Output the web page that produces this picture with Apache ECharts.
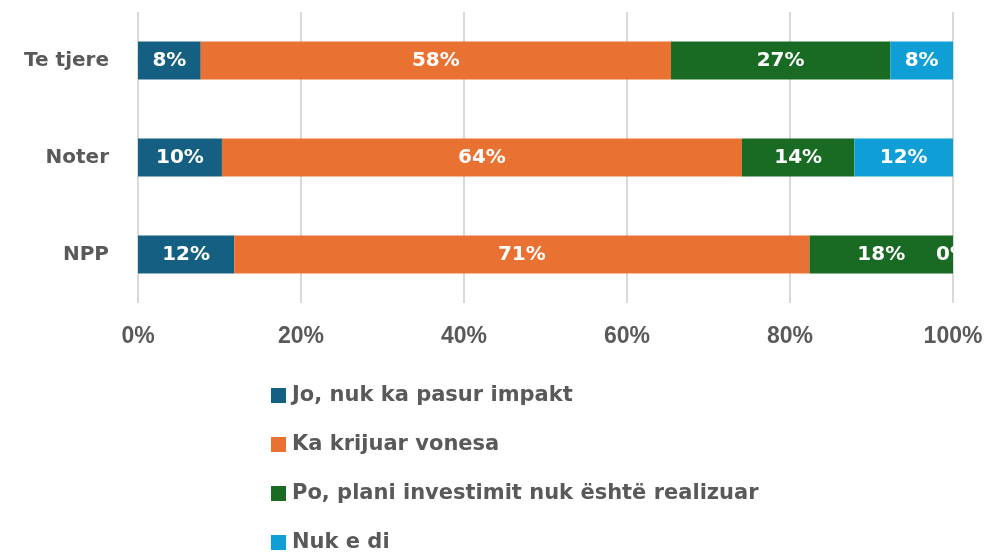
<!DOCTYPE html>
<html>
<head>
<meta charset="utf-8">
<script src="https://cdn.jsdelivr.net/npm/echarts@6/dist/echarts.min.js"></script>
<style>
  html, body { margin: 0; padding: 0; background: #ffffff; }
  #chart { width: 986px; height: 552px; }
</style>
</head>
<body>
<div id="chart"></div>
<script>
// Respondent groups (bottom to top on the y axis)
var categories = ['NPP', 'Noter', 'Te tjere'];

// Answer options, one stacked series each
var seriesNames = [
  'Jo, nuk ka pasur impakt',
  'Ka krijuar vonesa',
  'Po, plani investimit nuk është realizuar',
  'Nuk e di'
];

// Share of answers per group, in percent (each group sums to 100)
var joImpakt   = [11.8, 10.3, 7.7];
var kaVonesa   = [70.6, 63.8, 57.7];
var poPlani    = [17.6, 13.8, 26.9];
var nukEDi     = [0.0, 12.1, 7.7];

var xTickLabels = ['0%', '20%', '40%', '60%', '80%', '100%'];

var colors = ['#156082', '#E97132', '#196B24', '#0F9ED5'];
var seriesValues = [joImpakt, kaVonesa, poPlani, nukEDi];

var textFont = '"DejaVu Sans", "Open Sans", sans-serif';
var grey = '#595959';

var chart = echarts.init(document.getElementById('chart'));

var series = seriesNames.map(function (name, i) {
  return {
    name: name,
    type: 'bar',
    stack: 'total',
    barWidth: 38,
    data: seriesValues[i],
    itemStyle: { color: colors[i] },
    label: {
      show: true,
      position: 'inside',
      color: '#ffffff',
      fontFamily: textFont,
      fontWeight: 'bold',
      fontSize: 20,
      formatter: function (p) { return Math.round(p.value) + '%'; }
    },
    emphasis: { disabled: true }
  };
});

chart.setOption({
  animation: false,
  color: colors,
  grid: { left: 138, right: 33, top: 12, height: 291, containLabel: false },
  xAxis: {
    type: 'value',
    min: 0,
    max: 100,
    interval: 20,
    axisLine: { show: false },
    axisTick: { show: false },
    splitLine: { show: true, lineStyle: { color: '#D9D9D9', width: 2 } },
    axisLabel: {
      color: grey,
      fontFamily: '"Liberation Sans", Arial, sans-serif',
      fontWeight: 'bold',
      fontSize: 23,
      margin: 22,
      formatter: function (v) { return xTickLabels[v / 20]; }
    }
  },
  yAxis: {
    type: 'category',
    data: categories,
    axisLine: { show: false },
    axisTick: { show: false },
    axisLabel: {
      color: grey,
      fontFamily: textFont,
      fontWeight: 'bold',
      fontSize: 20,
      margin: 29
    }
  },
  legend: {
    orient: 'vertical',
    left: 271,
    top: 385,
    height: 180,
    padding: 0,
    itemWidth: 15,
    itemHeight: 15,
    itemGap: 28,
    icon: 'rect',
    selectedMode: false,
    data: seriesNames,
    textStyle: {
      color: grey,
      fontFamily: textFont,
      fontWeight: 'bold',
      fontSize: 21,
      padding: [0, 0, 0, 1]
    }
  },
  series: series
});
</script>
</body>
</html>
